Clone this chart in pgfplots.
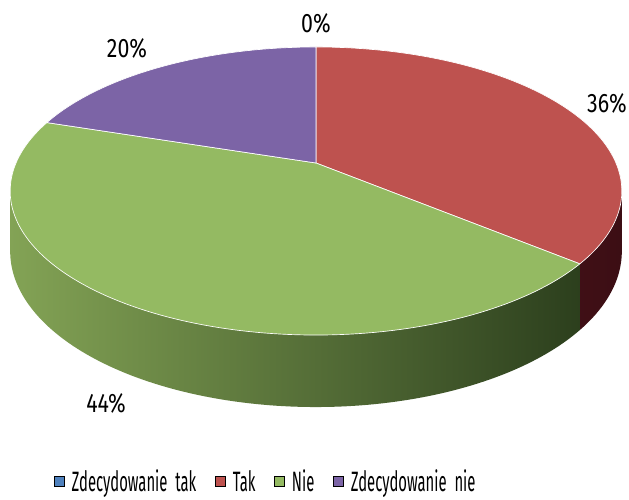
\documentclass[border=0pt]{standalone}
\usepackage{fontspec}
\setmainfont[FakeStretch=0.53]{Fira Sans}
\newfontfamily\lblfont[FakeStretch=0.8]{Fira Sans}
\usepackage{pgfplots}
\pgfplotsset{compat=1.18}
\definecolor{cZT}{HTML}{4F81BD}
\definecolor{cT}{HTML}{BE524F}
\definecolor{cN}{HTML}{94BA62}
\definecolor{cZN}{HTML}{7C64A6}
\definecolor{sTL}{HTML}{561820}
\definecolor{sTR}{HTML}{3C0E14}
\definecolor{sNL}{HTML}{83A355}
\definecolor{sNM}{HTML}{587838}
\definecolor{sNR}{HTML}{2C3F1D}
% data (percent)
\def\vZT{0}\def\vT{36}\def\vN{44}\def\vZN{20}
% geometry of the projected pie (pixels)
\def\cx{316}\def\cy{163}\def\rx{300}\def\ry{138.6}\def\kk{0.1944}\def\dd{58}
\pgfmathsetmacro\aA{90}
\pgfmathsetmacro\aB{\aA-3.6*\vZT}
\pgfmathsetmacro\aC{\aB-3.6*\vT}
\pgfmathsetmacro\aD{\aC-3.6*\vN}
\pgfmathsetmacro\aE{\aD-3.6*\vZN}
\pgfmathsetmacro\sR{asin(-\kk)}
\pgfmathsetmacro\sL{-180-\sR}
\pgfmathsetmacro\xC{\cx+\rx*cos(\aC)/(1+\kk*sin(\aC))}
\pgfmathsetmacro\yC{\cy-\ry*sin(\aC)/(1+\kk*sin(\aC))}
\pgfmathsetmacro\xR{\cx+\rx*cos(\sR)/(1+\kk*sin(\sR))}
\pgfmathsetmacro\yR{\cy-\ry*sin(\sR)/(1+\kk*sin(\sR))}
\pgfmathsetmacro\xL{\cx+\rx*cos(\sL)/(1+\kk*sin(\sL))}
\pgfmathsetmacro\yL{\cy-\ry*sin(\sL)/(1+\kk*sin(\sL))}
\pgfplotsset{sqlegend/.style={legend image code/.code={\fill[##1] (0pt,-3.5pt) rectangle (7.5pt,4.5pt);}}}
\begin{document}
\begin{tikzpicture}
\begin{axis}[
  width=471.75pt, height=375pt, scale only axis,
  xmin=0, xmax=629, ymin=0, ymax=500, y dir=reverse,
  hide axis, clip=false,
  legend columns=4,
  legend style={at={(axis cs:266,482)}, anchor=center, draw=none, fill=none, inner sep=0pt,
    font=\fontsize{21}{22}\selectfont,
    /tikz/every odd column/.append style={column sep=3.5pt},
    /tikz/every even column/.append style={column sep=12pt}},
  legend cell align=left,
]
\path (axis cs:0,0) rectangle (axis cs:629,500);
% side of Tak
\addplot[forget plot, draw=none, left color=sTL, right color=sTR, domain=\aC:\sR, samples=40, variable=\t]
  ({\cx+\rx*cos(\t)/(1+\kk*sin(\t))},{\cy-\ry*sin(\t)/(1+\kk*sin(\t))+\dd/(1+\kk*sin(\t))})
  -- (axis cs:\xR,\yR) -- (axis cs:\cx,\cy) -- (axis cs:\xC,\yC) -- cycle;
% side of Nie
\addplot[forget plot, draw=none, left color=sNL, middle color=sNM, right color=sNR, domain=\sL:\aC, samples=120, variable=\t]
  ({\cx+\rx*cos(\t)/(1+\kk*sin(\t))},{\cy-\ry*sin(\t)/(1+\kk*sin(\t))+\dd/(1+\kk*sin(\t))})
  -- (axis cs:\xC,\yC) -- (axis cs:\cx,\cy) -- (axis cs:\xL,\yL) -- cycle;
% top slices
\addplot[forget plot, fill=cT, draw=white, line width=0.5pt, domain=\aC:\aB, samples=100, variable=\t]
  ({\cx+\rx*cos(\t)/(1+\kk*sin(\t))},{\cy-\ry*sin(\t)/(1+\kk*sin(\t))}) -- (axis cs:\cx,\cy) -- cycle;
\addplot[forget plot, fill=cN, draw=white, line width=0.5pt, domain=\aD:\aC, samples=120, variable=\t]
  ({\cx+\rx*cos(\t)/(1+\kk*sin(\t))},{\cy-\ry*sin(\t)/(1+\kk*sin(\t))}) -- (axis cs:\cx,\cy) -- cycle;
\addplot[forget plot, fill=cZN, draw=white, line width=0.5pt, domain=\aE:\aD, samples=60, variable=\t]
  ({\cx+\rx*cos(\t)/(1+\kk*sin(\t))},{\cy-\ry*sin(\t)/(1+\kk*sin(\t))}) -- (axis cs:\cx,\cy) -- cycle;
% labels
\begin{scope}[every node/.style={font=\lblfont\fontsize{20}{22}\selectfont, inner sep=0pt}]
\node at (axis cs:316,23) {0\%};
\node at (axis cs:607,103) {36\%};
\node at (axis cs:127,48) {20\%};
\node at (axis cs:106,403) {44\%};
\end{scope}
\addlegendimage{sqlegend, fill=cZT}
\addlegendentry{Zdecydowanie\ \ tak}
\addlegendimage{sqlegend, fill=cT}
\addlegendentry{Tak}
\addlegendimage{sqlegend, fill=cN}
\addlegendentry{Nie}
\addlegendimage{sqlegend, fill=cZN}
\addlegendentry{Zdecydowanie\ \ nie}
\end{axis}
\end{tikzpicture}
\end{document}
